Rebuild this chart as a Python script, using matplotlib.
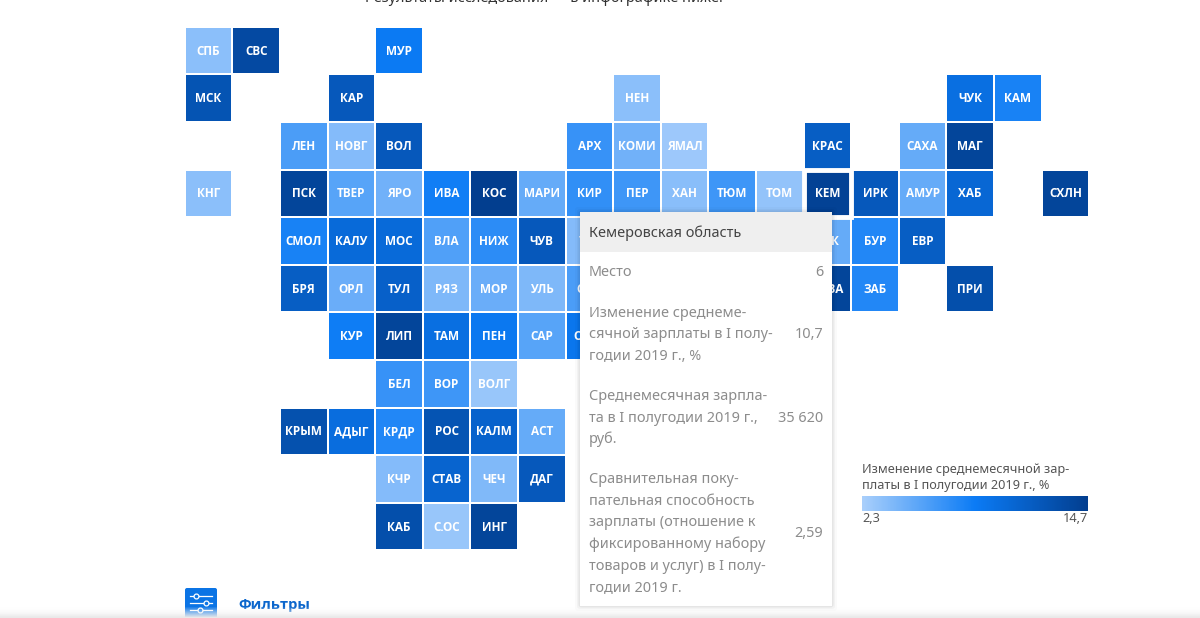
import matplotlib

matplotlib.use("Agg")
import matplotlib.pyplot as plt
import numpy as np
from matplotlib.cm import ScalarMappable
from matplotlib.colors import LinearSegmentedColormap, Normalize
from matplotlib.patches import FancyBboxPatch, Rectangle

plt.rcParams["font.family"] = ["Noto Sans", "DejaVu Sans"]

# tile map, one string per row, "." is an empty tile
row_codes = [
    "СПБ СВС . . МУР . . . . . . . . . . . . . .",
    "МСК . . КАР . . . . . НЕН . . . . . . ЧУК КАМ .",
    ". . ЛЕН НОВГ ВОЛ . . . АРХ КОМИ ЯМАЛ . . КРАС . САХА МАГ . .",
    "КНГ . ПСК ТВЕР ЯРО ИВА КОС МАРИ КИР ПЕР ХАН ТЮМ ТОМ КЕМ ИРК АМУР ХАБ . СХЛН",
    ". . СМОЛ КАЛУ МОС ВЛА НИЖ ЧУВ ТАТ . . . . ХАК БУР ЕВР . . .",
    ". . БРЯ ОРЛ ТУЛ РЯЗ МОР УЛЬ САМ . . . . ТЫВА ЗАБ . ПРИ . .",
    ". . . КУР ЛИП ТАМ ПЕН САР ОРЕН . . . . . . . . . .",
    ". . . . БЕЛ ВОР ВОЛГ . . . . . . . . . . . .",
    ". . КРЫМ АДЫГ КРДР РОС КАЛМ АСТ . . . . . . . . . . .",
    ". . . . КЧР СТАВ ЧЕЧ ДАГ . . . . . . . . . . .",
    ". . . . КАБ С.ОС ИНГ . . . . . . . . . . . .",
]

# values estimated from tile colours, same order as the codes above
row_values = [
    [3.5, 13.5, 8.6],
    [12.5, 12.0, 3.5, 9.7, 8.0],
    [6.0, 3.8, 12.0, 6.8, 4.5, 2.8, 11.5, 5.0, 14.0],
    [3.5, 14.0, 5.5, 4.5, 8.3, 14.7, 5.0, 7.0, 6.5, 3.6, 6.5, 3.2, 14.3, 12.0, 5.0, 10.5, 14.0],
    [8.0, 10.2, 10.2, 5.8, 7.2, 12.0, 3.8, 5.0, 7.6, 11.5],
    [11.5, 4.8, 11.2, 4.0, 4.8, 4.0, 6.0, 14.0, 7.6, 13.0],
    [8.4, 14.0, 9.7, 8.8, 5.5, 9.0],
    [6.8, 6.5, 3.0],
    [12.8, 9.9, 7.6, 12.5, 11.0, 5.0],
    [3.8, 10.8, 3.9, 12.0],
    [13.0, 3.0, 14.0],
]

value_min = 2.3
value_max = 14.7
legend_title = ["Изменение среднемесячной зар-", "платы в I полугодии 2019 г., %"]

tooltip_title = "Кемеровская область"
tooltip_rows = [
    (["Место"], "6"),
    (["Изменение среднеме-", "сячной зарплаты в I полу-", "годии 2019 г., %"], "10,7"),
    (["Среднемесячная зарпла-", "та в I полугодии 2019 г.,", "руб."], "35 620"),
    (
        [
            "Сравнительная поку-",
            "пательная способность",
            "зарплаты (отношение к",
            "фиксированному набору",
            "товаров и услуг) в I полу-",
            "годии 2019 г.",
        ],
        "2,59",
    ),
]

W, H = 1200, 618
cmap = LinearSegmentedColormap.from_list("tiles", ["#a9cffb", "#0b7bf5", "#023e8f"])
norm = Normalize(value_min, value_max)

codes = [row.split() for row in row_codes]
grid = np.full((len(codes), len(codes[0])), np.nan)
for r, row in enumerate(codes):
    filled = [c for c, code in enumerate(row) if code != "."]
    grid[r, filled] = row_values[r]

fig = plt.figure(figsize=(W / 100, H / 100), dpi=100, facecolor="white")

# tile grid
left, right, top, bottom = 184.8, 1089.2, 26.8, 550.4
ax = fig.add_axes([left / W, 1 - bottom / H, (right - left) / W, (bottom - top) / H])
ax.pcolormesh(
    np.ma.masked_invalid(grid),
    cmap=cmap,
    norm=norm,
    edgecolors="white",
    linewidth=1.1,
)
ax.set_ylim(len(codes), 0)
ax.axis("off")

for r, row in enumerate(codes):
    for c, code in enumerate(row):
        if code != ".":
            ax.text(c + 0.5, r + 0.51, code, color="white", fontsize=8.5, fontweight="bold",
                    family=["Open Sans", "DejaVu Sans"], ha="center", va="center")

# hovered tile has a thicker white edge
kem_r = next(r for r, row in enumerate(codes) if "КЕМ" in row)
kem_c = codes[kem_r].index("КЕМ")
ax.add_patch(Rectangle((kem_c, kem_r), 1, 1, fill=False, edgecolor="white", linewidth=3.5))

# page furniture, in pixels
page = fig.add_axes([0, 0, 1, 1], zorder=3)
page.set_xlim(0, W)
page.set_ylim(H, 0)
page.axis("off")
page.patch.set_alpha(0)

page.text(365, -2, "Результаты исследования — в инфографике ниже:", fontsize=10.4, color="#333333",
          ha="left", va="center", clip_on=False)

# tooltip with soft shadow
for grow, alpha in [(5, 0.02), (3, 0.03), (1.5, 0.05)]:
    page.add_patch(FancyBboxPatch((580 - grow, 212 - grow), 252 + 2 * grow, 394 + 2 * grow,
                                  boxstyle="round,pad=0,rounding_size=3", fc="black", ec="none", alpha=alpha))
page.add_patch(Rectangle((580, 212), 252, 394, fc="white", ec="none"))
page.add_patch(Rectangle((580, 212), 252, 40, fc="#efefef", ec="none"))
page.text(589, 233, tooltip_title, fontsize=10.4, color="#444444", va="center")

line_h = 21.6
y = 273
for lines, value in tooltip_rows:
    for i, line in enumerate(lines):
        page.text(589, y + i * line_h, line, fontsize=10.4, color="#8c8c8c", va="center")
    page.text(823, y + (len(lines) - 1) * line_h / 2, value, fontsize=10.4, color="#8c8c8c",
              ha="right", va="center")
    y += len(lines) * line_h + 18.5

# legend
for i, line in enumerate(legend_title):
    page.text(862, 469 + i * 17, line, fontsize=9.15, color="#555555", va="center")
cax = fig.add_axes([862 / W, 1 - 511 / H, 226 / W, 15 / H], zorder=4)
bar = fig.colorbar(ScalarMappable(norm=norm, cmap=cmap), cax=cax, orientation="horizontal")
bar.set_ticks([])
bar.outline.set_visible(False)
page.text(862, 519, "2,3", fontsize=9.15, color="#555555", va="center")
page.text(1088, 519, "14,7", fontsize=9.15, color="#555555", ha="right", va="center")

# filters button
page.add_patch(FancyBboxPatch((185, 588), 32, 34, boxstyle="round,pad=0,rounding_size=2", fc="#0b74e5", ec="none"))
for line_y, knob_x in [(596, 196), (603, 206), (610, 200)]:
    page.plot([190, 212], [line_y, line_y], color="white", lw=0.9)
    page.plot([knob_x], [line_y], "o", ms=3.5, mfc="#0b74e5", mec="white", mew=0.9)
page.text(238, 605, "Фильтры", fontsize=10.6, fontweight="bold", color="#0b66cc",
          family=["Open Sans", "DejaVu Sans"], va="center")

# grey fade at the bottom of the page
fade = np.linspace(0, 1, 12).reshape(-1, 1)
fade_cmap = LinearSegmentedColormap.from_list("fade", ["#ffffff00", "#e9e9e9ff"])
page.imshow(fade, extent=(0, W, H, 606), cmap=fade_cmap, aspect="auto", zorder=5)
page.set_xlim(0, W)
page.set_ylim(H, 0)

fig.savefig("out.png", dpi=100)
